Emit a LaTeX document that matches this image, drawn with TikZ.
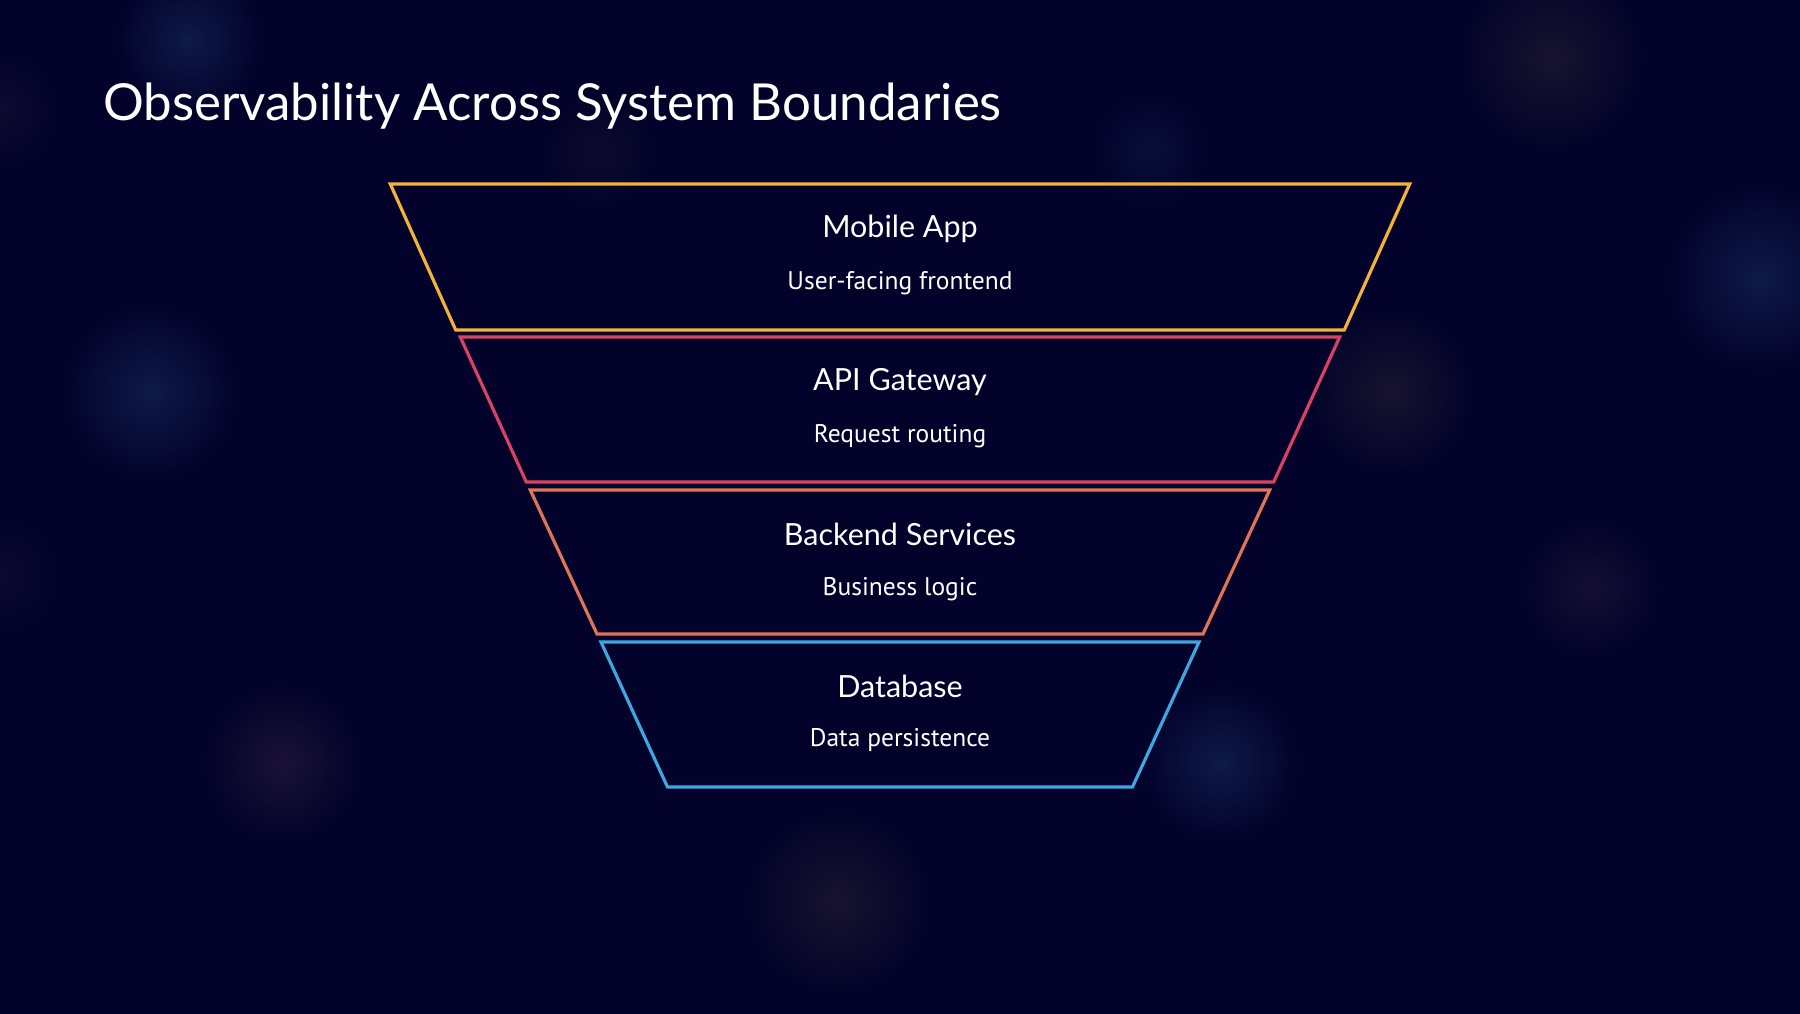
\documentclass[tikz,border=0pt]{standalone}
\usepackage{fontspec}
\setmainfont{Lato}
\newfontfamily\subfont{PT Sans}
\newfontfamily\headfont{Lato}
\definecolor{bg}{HTML}{02022A}
\definecolor{cyellow}{HTML}{F3B33A}
\definecolor{cpink}{HTML}{DA4262}
\definecolor{corange}{HTML}{DF7459}
\definecolor{cblue}{HTML}{3EA6E2}
\definecolor{glowblue}{HTML}{0E1A48}
\definecolor{glowred}{HTML}{1A1236}
\definecolor{gloworange}{HTML}{18142F}
\tikzset{
  layer/.style={line width=3.2pt, line join=miter},
  headtxt/.style={text=white, font=\headfont\fontsize{30.5}{34}\selectfont, inner sep=0pt},
  subtxt/.style={text=white, font=\subfont\fontsize{25.5}{28}\selectfont, inner sep=0pt},
}
\begin{document}
\begin{tikzpicture}[x=1pt,y=-1pt]
\fill[bg] (0,0) rectangle (1800,1014);
\useasboundingbox (0,0) rectangle (1800,1014);
% soft background glows
\shade[inner color=glowblue, outer color=bg] (189,40) circle (75);
\shade[inner color=glowblue, outer color=bg] (150,392) circle (90);
\shade[inner color=glowred, outer color=bg] (282,763) circle (80);
\shade[inner color=glowblue, outer color=bg] (1220,763) circle (80);
\shade[inner color=gloworange, outer color=bg] (838,902) circle (95);
\shade[inner color=glowblue, outer color=bg] (1760,278) circle (95);
\shade[inner color=gloworange, outer color=bg] (1552,58) circle (95);
\shade[inner color=gloworange, outer color=bg] (1390,392) circle (85);
\shade[inner color=glowred!80!bg, outer color=bg] (1590,588) circle (70);
\shade[inner color=glowblue!50!bg, outer color=bg] (1150,150) circle (60);
\shade[inner color=gloworange!50!bg, outer color=bg] (598,152) circle (60);
\shade[inner color=glowred!50!bg, outer color=bg] (0,110) circle (60);
\shade[inner color=glowred!40!bg, outer color=bg] (0,575) circle (60);

% title
\node[anchor=west, text=white, inner sep=0pt, font=\headfont\fontsize{51}{56}\selectfont] (title) at (103,106) {Observability Across System Boundaries};

% funnel layers
\draw[layer, cyellow] (390.3,184) -- (1409.7,184) -- (1344.3,330) -- (455.7,330) -- cycle;
\draw[layer, cpink] (460.3,337) -- (1339.7,337) -- (1273.7,482) -- (526.3,482) -- cycle;
\draw[layer, corange] (530.3,490) -- (1269.7,490) -- (1203.0,634) -- (597.0,634) -- cycle;
\draw[layer, cblue] (601,642) -- (1199,642) -- (1132.5,787) -- (667.5,787) -- cycle;

% labels
\node[headtxt] (l1) at (900,229) {Mobile App};
\node[subtxt] (s1) at (900,283) {User-facing frontend};
\node[headtxt] (l2) at (900,382) {API Gateway};
\node[subtxt] (s2) at (900,436) {Request routing};
\node[headtxt] (l3) at (900,534) {Backend Services};
\node[subtxt] (s3) at (900,589) {Business logic};
\node[headtxt] (l4) at (900,686) {Database};
\node[subtxt] (s4) at (900,740) {Data persistence};
\end{tikzpicture}
\end{document}
